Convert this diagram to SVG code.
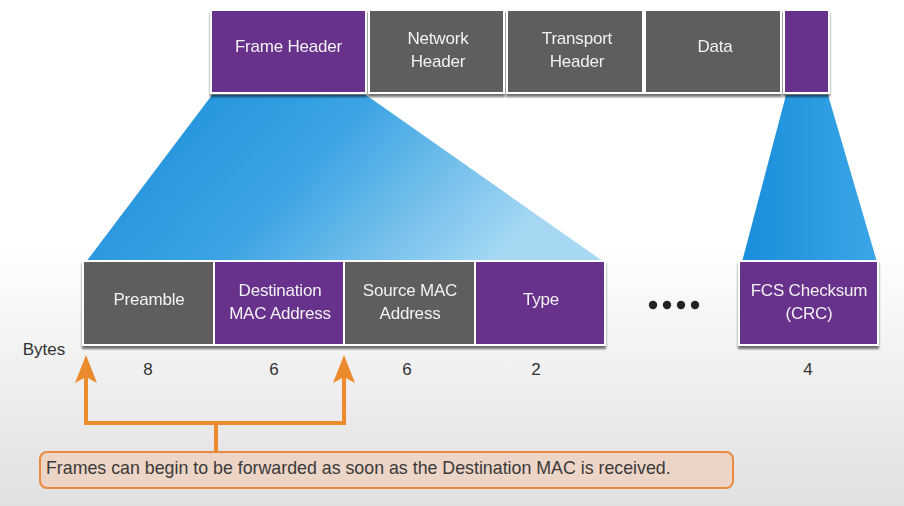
<svg xmlns="http://www.w3.org/2000/svg" width="904" height="506" viewBox="0 0 904 506">
<defs>
<linearGradient id="bg" x1="0" y1="0" x2="0" y2="1">
<stop offset="0" stop-color="#ffffff"/>
<stop offset="0.48" stop-color="#ffffff"/>
<stop offset="1" stop-color="#e0e0e0"/>
</linearGradient>
<linearGradient id="blue1" x1="0" y1="0" x2="1" y2="0.3">
<stop offset="0" stop-color="#1a8ddb"/>
<stop offset="0.5" stop-color="#3aa3e3"/>
<stop offset="1" stop-color="#a6d8f3"/>
</linearGradient>
<linearGradient id="blue2" x1="0" y1="0" x2="1" y2="0">
<stop offset="0" stop-color="#1a8ddb"/>
<stop offset="1" stop-color="#3aa6e6"/>
</linearGradient>
<filter id="sh" x="-10%" y="-10%" width="120%" height="130%">
<feDropShadow dx="0" dy="3" stdDeviation="1.2" flood-color="#000" flood-opacity="0.55"/>
</filter>
</defs>
<style>
.p{fill:#67318c;stroke:#ffffff;stroke-width:2}
.g{fill:#605d5e;stroke:#ffffff;stroke-width:2}
.t{font-family:"Liberation Sans",Arial,sans-serif;font-size:17px;fill:#f2f2f2;text-anchor:middle;letter-spacing:-0.2px}
.n{font-family:"Liberation Sans",Arial,sans-serif;font-size:17px;fill:#333333;text-anchor:middle}
.o{fill:none;stroke:#ec8a2e;stroke-width:4}
.ah{fill:#ec8a2e}
</style>
<rect x="0" y="0" width="904" height="506" fill="url(#bg)"/>

<g id="funnels">
<polygon points="212,95 366,95 604,262 86,262" fill="url(#blue1)"/>
<polygon points="786,95 828,95 877,262 742,262" fill="url(#blue2)"/>
</g>

<g id="top-frame" filter="url(#sh)">
<g id="frame-header"><rect class="p" x="211" y="10" width="155" height="83"/><text class="t" x="288.5" y="52">Frame Header</text></g>
<g id="network-header"><rect class="g" x="369" y="10" width="135" height="83"/><text class="t" x="438" y="44">Network</text><text class="t" x="438" y="67">Header</text></g>
<g id="transport-header"><rect class="g" x="507" y="10" width="136" height="83"/><text class="t" x="577" y="44">Transport</text><text class="t" x="577" y="67">Header</text></g>
<g id="data"><rect class="g" x="645" y="10" width="136" height="83"/><text class="t" x="715" y="52">Data</text></g>
<g id="trailer"><rect class="p" x="784" y="10" width="45" height="83"/></g>
</g>

<g id="fields" filter="url(#sh)">
<g id="preamble"><rect class="g" x="83" y="261" width="131" height="84"/><text class="t" x="149" y="305">Preamble</text></g>
<g id="dest-mac"><rect class="p" x="214" y="261" width="130" height="84"/><text class="t" x="280" y="296">Destination</text><text class="t" x="280" y="319">MAC Address</text></g>
<g id="src-mac"><rect class="g" x="344" y="261" width="131" height="84"/><text class="t" x="410" y="296">Source MAC</text><text class="t" x="410" y="319">Address</text></g>
<g id="type"><rect class="p" x="475" y="261" width="130" height="84"/><text class="t" x="541" y="305">Type</text></g>
<g id="fcs"><rect class="p" x="739" y="261" width="139" height="84"/><text class="t" x="809" y="296">FCS Checksum</text><text class="t" x="809" y="319">(CRC)</text></g>
</g>

<g id="dots" fill="#222222">
<circle cx="653" cy="305" r="4.2"/>
<circle cx="667" cy="305" r="4.2"/>
<circle cx="681" cy="305" r="4.2"/>
<circle cx="695" cy="305" r="4.2"/>
</g>

<g id="bytes">
<text class="n" x="44" y="355">Bytes</text>
<text class="n" x="148" y="375">8</text>
<text class="n" x="274" y="375">6</text>
<text class="n" x="407" y="375">6</text>
<text class="n" x="536" y="375">2</text>
<text class="n" x="808" y="375">4</text>
</g>

<g id="connectors">
<path class="o" d="M86,423 L86,375"/>
<path class="o" d="M344,423 L344,375"/>
<path class="o" d="M84,423 L346,423"/>
<path class="o" d="M216,423 L216,452"/>
<polygon class="ah" points="86,355 97,383 86,377 75,383"/>
<polygon class="ah" points="344,355 355,383 344,377 333,383"/>
</g>

<g id="callout">
<rect x="40" y="452" width="693" height="36" rx="7" fill="#ecd4c6" stroke="#e88a3f" stroke-width="2"/>
<text x="46" y="474" font-family="'Liberation Sans',Arial,sans-serif" font-size="17.8" fill="#3a3a3a">Frames can begin to be forwarded as soon as the Destination MAC is received.</text>
</g>
</svg>
